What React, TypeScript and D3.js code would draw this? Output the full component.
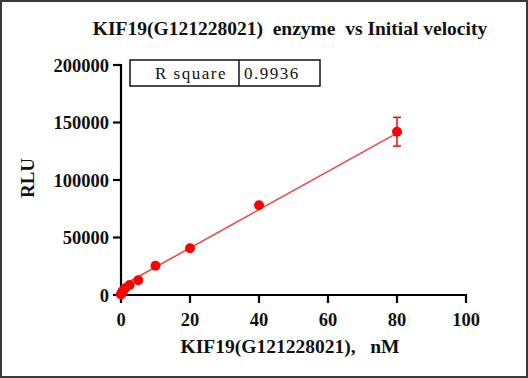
import React from "react";
import * as d3 from "d3";

const concentrations = [0, 0.156, 0.3125, 0.625, 1.25, 2.5, 5, 10, 20, 40, 80];
const rluMeans = [500, 1500, 2600, 3600, 5800, 8700, 12800, 25500, 40600, 78000, 142000];
const rluSD = [0, 0, 0, 0, 0, 0, 0, 0, 0, 0, 12500];
const xTicks = [0, 20, 40, 60, 80, 100];
const yTicks = [0, 50000, 100000, 150000, 200000];
const fitSlope = 1665;
const fitIntercept = 7600;
const rSquare = "0.9936";
const title = "KIF19(G121228021)  enzyme  vs Initial velocity";
const xLabel = "KIF19(G121228021),   nM";
const yLabel = "RLU";

export default function App() {
  const W = 528, H = 378;
  const x = d3.scaleLinear().domain([0, 100]).range([121, 466]);
  const y = d3.scaleLinear().domain([0, 200000]).range([295, 65]);
  const fs = { fontFamily: '"Liberation Serif", "DejaVu Serif", "Noto Serif", serif', whiteSpace: "pre" as const };
  const fitX = [concentrations[0], concentrations[concentrations.length - 1]];
  const line = d3.line<number>().x((d) => x(d)).y((d) => y(fitSlope * d + fitIntercept));
  const red = "#ff0000";

  return (
    <svg width={W} height={H} style={{ position: "absolute", left: 0, top: 0, background: "#fff" }}>
      <rect x={1} y={1} width={W - 2} height={H - 2} fill="#fff" stroke="#3a3a3a" strokeWidth={2} />
      <text x={290} y={35} textAnchor="middle" style={fs} fontWeight="bold" fontSize={19.5} fill="#111">
        {title}
      </text>
      {/* R square table */}
      <rect x={130} y={60} width={190} height={26} fill="#fff" stroke="#111" strokeWidth={1.5} />
      <line x1={239} x2={239} y1={60} y2={86} stroke="#111" strokeWidth={1.5} />
      <text x={227} y={79} textAnchor="end" style={{ ...fs, letterSpacing: "1.5px" }} fontSize={17} fill="#111">R square</text>
      <text x={244} y={79} textAnchor="start" style={{ ...fs, letterSpacing: "1.5px" }} fontSize={17} fill="#111">{rSquare}</text>

      {/* axes */}
      <line x1={x(0)} x2={x(0)} y1={y(200000) - 1} y2={302} stroke="#000" strokeWidth={2.2} />
      <line x1={x(0)} x2={x(100) + 1} y1={y(0)} y2={y(0)} stroke="#000" strokeWidth={2.2} />
      {yTicks.map((t) => (
        <g key={"y" + t}>
          <line x1={x(0) - 8} x2={x(0)} y1={y(t)} y2={y(t)} stroke="#000" strokeWidth={2.2} />
          <text x={x(0) - 12} y={y(t) + 6.5} textAnchor="end" style={fs} fontWeight="bold" fontSize={18.5} fill="#111">
            {t}
          </text>
        </g>
      ))}
      {xTicks.map((t) => (
        <g key={"x" + t}>
          <line x1={x(t)} x2={x(t)} y1={y(0)} y2={y(0) + 8} stroke="#000" strokeWidth={2.2} />
          <text x={x(t)} y={y(0) + 31} textAnchor="middle" style={fs} fontWeight="bold" fontSize={18.5} fill="#111">
            {t}
          </text>
        </g>
      ))}
      <text x={290} y={353} textAnchor="middle" style={fs} fontWeight="bold" fontSize={19.5} fill="#111">
        {xLabel}
      </text>
      <text transform={`translate(34,178) rotate(-90)`} textAnchor="middle" style={fs} fontWeight="bold" fontSize={19} fill="#111">
        {yLabel}
      </text>

      {/* fit line */}
      <path d={line(fitX) || ""} fill="none" stroke="#f04848" strokeWidth={1.6} />

      {/* error bars */}
      {concentrations.map((c, i) =>
        rluSD[i] > 0 ? (
          <g key={"e" + i} stroke={red} strokeWidth={1.5}>
            <line x1={x(c)} x2={x(c)} y1={y(rluMeans[i] - rluSD[i])} y2={y(rluMeans[i] + rluSD[i])} />
            <line x1={x(c) - 4} x2={x(c) + 4} y1={y(rluMeans[i] + rluSD[i])} y2={y(rluMeans[i] + rluSD[i])} />
            <line x1={x(c) - 4} x2={x(c) + 4} y1={y(rluMeans[i] - rluSD[i])} y2={y(rluMeans[i] - rluSD[i])} />
          </g>
        ) : null
      )}
      {/* points */}
      {concentrations.map((c, i) => (
        <circle key={"p" + i} cx={x(c)} cy={y(rluMeans[i])} r={5} fill={red} />
      ))}
    </svg>
  );
}
